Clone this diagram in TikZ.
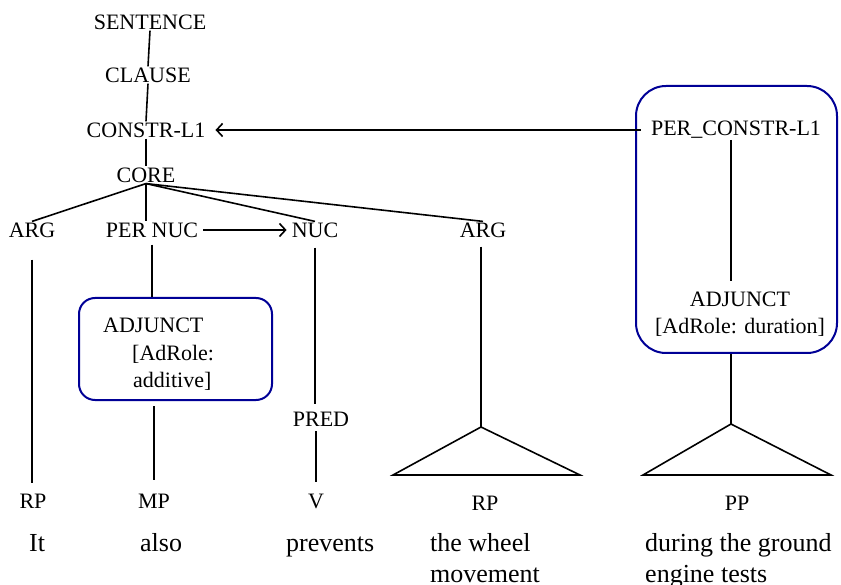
\documentclass[tikz,border=0pt]{standalone}
\usepackage{fontspec}
\setmainfont{Liberation Serif}
\usetikzlibrary{arrows.meta}
\definecolor{roleblue}{RGB}{0,0,150}

\begin{document}
\begin{tikzpicture}[x=1pt, y=-1pt,
  cat/.style={font=\fontsize{22}{27.5}\selectfont, inner sep=1pt},
  word/.style={font=\fontsize{26}{31}\selectfont, inner sep=0pt, align=left},
  branch/.style={line width=1.6pt, line join=miter},
  link/.style={-{Straight Barb[length=6pt,width=13pt]}, line width=1.6pt},
  rolebox/.style={draw=roleblue, line width=2pt, rounded corners=#1, inner sep=0pt},
  every node/.style={align=center}]

\useasboundingbox (0,0) rectangle (841,585);

% Spine of the clause
\node[cat] (sentence) at (150,22) {SENTENCE};
\node[cat] (clause) at (148,75) {CLAUSE};
\node[cat] (constr) at (146,130) {CONSTR-L1};
\node[cat] (core) at (146,175) {CORE};

% Daughters of the core
\node[cat] (arg1) at (32,230) {ARG};
\node[cat] (pernuc) at (152,230) {PER NUC};
\node[cat] (nuc) at (315,230) {NUC};
\node[cat] (arg2) at (483,230) {ARG};

% Adjunct boxes
\node[rolebox=16pt, minimum width=193pt, minimum height=102pt] (adjbox1) at (175.5,349) {};
\node[cat, align=left, anchor=north west, inner sep=0pt] (adjtxt1) at (103,318)
  {ADJUNCT\\\hspace*{29pt}[AdRole:\\\hspace*{30pt}additive]};
\node[rolebox=30pt, minimum width=201pt, minimum height=267pt] (adjbox2) at (736.5,219.5) {};
\node[cat] (perconstr) at (736,130) {PER\_CONSTR-L1};
\node[cat] (adj2) at (740,314) {ADJUNCT\\{[AdRole: duration]}};
\node[cat] (pred) at (321,419) {PRED};

% Triangles
\coordinate (rpTop) at (481,427);
\coordinate (rpL) at (393,475);
\coordinate (rpR) at (580,475);
\coordinate (ppTop) at (731,424);
\coordinate (ppL) at (643,475);
\coordinate (ppR) at (831,475);

% Phrase labels and words
\node[cat] (rp1) at (33,501) {RP};
\node[cat] (mp) at (154,501) {MP};
\node[cat] (v) at (316,501) {V};
\node[cat] (rp2) at (485,503) {RP};
\node[cat] (pp) at (737,503) {PP};

\node[word, anchor=base west] (it) at (29,551) {It};
\node[word, anchor=base west] (also) at (140,551) {also};
\node[word, anchor=base west] (prevents) at (286,551) {prevents};
\node[word, anchor=north west] (wheel) at (430,533) {the wheel\\movement};
\node[word, anchor=north west] (during) at (645,533) {during the ground\\engine tests};

% Branches
\draw[branch] (sentence.south) -- (clause.north);
\draw[branch] (clause.south) -- (constr.north);
\draw[branch] (constr.south) -- (core.north);
\foreach \kid in {arg1, nuc, arg2}
  \draw[branch] (core.south) -- (\kid.north);
\draw[branch] (core.south) -- (core.south |- pernuc.north);

\draw[branch, shorten <=21pt, shorten >=10pt] (arg1.south) -- (arg1.south |- rp1.north);
\draw[branch, shorten <=6pt] (pernuc.south) -- (pernuc.south |- adjbox1.north);
\draw[branch, shorten <=5pt, shorten >=13pt] (mp.north |- adjbox1.south) -- (mp.north);
\draw[branch, shorten <=9pt, shorten >=7pt] (nuc.south) -- (nuc.south |- pred.north);
\draw[branch, shorten <=4pt, shorten >=10pt] (pred.south -| v.north) -- (v.north);
\draw[branch, shorten <=8pt] (arg2.south -| rpTop) -- (rpTop);
\draw[branch] (rpTop) -- (rpL) -- (rpR) -- cycle;
\draw[branch, shorten >=9pt] (perconstr.south -| ppTop) -- (adj2.north -| ppTop);
\draw[branch] (adjbox2.south -| ppTop) -- (ppTop);
\draw[branch] (ppTop) -- (ppL) -- (ppR) -- cycle;

% Operator arrows
\draw[link, shorten <=4pt, shorten >=4pt] (pernuc.east) -- (nuc.west);
\draw[link, shorten <=9pt, shorten >=9pt] (perconstr.west) -- (constr.east);

\end{tikzpicture}
\end{document}
